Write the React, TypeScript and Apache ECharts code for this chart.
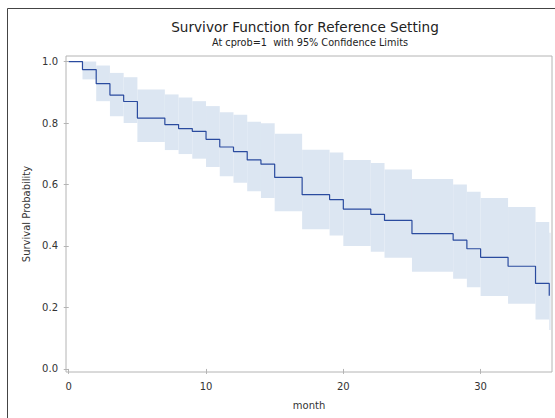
import React, { useEffect, useRef } from "react";
import * as echarts from "echarts";

// Event times (month) and Kaplan-Meier style survivor estimates with 95% limits
const times = [0, 1, 2, 3, 4, 5, 7, 8, 9, 10, 11, 12, 13, 14, 15, 17, 19, 20, 22, 23, 25, 28, 29, 30, 32, 34, 35];
const survival = [1.0, 0.974, 0.928, 0.891, 0.87, 0.816, 0.795, 0.782, 0.773, 0.747, 0.722, 0.707, 0.68, 0.666, 0.623, 0.567, 0.551, 0.52, 0.503, 0.483, 0.44, 0.419, 0.391, 0.363, 0.334, 0.278, 0.238];
const upperLimit = [1.0, 1.0, 0.987, 0.963, 0.949, 0.909, 0.893, 0.883, 0.871, 0.855, 0.835, 0.827, 0.804, 0.799, 0.765, 0.713, 0.704, 0.68, 0.67, 0.649, 0.618, 0.6, 0.576, 0.556, 0.527, 0.478, 0.443];
const lowerLimit = [1.0, 0.942, 0.871, 0.822, 0.8, 0.738, 0.712, 0.699, 0.684, 0.657, 0.627, 0.606, 0.578, 0.556, 0.513, 0.454, 0.434, 0.4, 0.381, 0.362, 0.316, 0.293, 0.266, 0.237, 0.212, 0.161, 0.127];
const endTime = 35.1;

const xTicks = [0, 10, 20, 30];
const yTicks = [0, 0.2, 0.4, 0.6, 0.8, 1.0];

const titleText = "Survivor Function for Reference Setting";
const subtitleText = "At cprob=1  with 95% Confidence Limits";
const xName = "month";
const yName = "Survival Probability";

const FONT = '"DejaVu Sans", sans-serif';

export default function App() {
  const ref = useRef<HTMLDivElement>(null);

  useEffect(() => {
    if (!ref.current) return;
    const chart = echarts.init(ref.current, null, { renderer: "svg" });

    const bandData = times.map((t, i) => [
      t,
      i + 1 < times.length ? times[i + 1] : endTime,
      upperLimit[i],
      lowerLimit[i],
    ]);
    const lineData = times.map((t, i) => [t, survival[i]]);

    const axisColor = "#b4b4b4";
    const labelColor = "#333";

    chart.setOption({
      animation: false,
      backgroundColor: "#fff",
      grid: {
        left: 66,
        top: 56,
        width: 486,
        height: 316,
        show: true,
        borderColor: axisColor,
        borderWidth: 1,
        backgroundColor: "transparent",
      },
      xAxis: {
        type: "value",
        min: -0.2,
        max: 35.2,
        name: xName,
        nameLocation: "middle",
        nameGap: 28,
        nameTextStyle: { fontFamily: FONT, fontSize: 10, color: labelColor },
        axisLine: { show: false },
        splitLine: { show: false },
        axisTick: {
          show: true,
          length: 5,
          customValues: xTicks,
          lineStyle: { color: axisColor },
        },
        axisLabel: {
          customValues: xTicks,
          margin: 9,
          fontFamily: FONT,
          fontSize: 10,
          color: labelColor,
        },
      },
      yAxis: {
        type: "value",
        min: -0.01,
        max: 1.018,
        name: yName,
        nameLocation: "middle",
        nameGap: 30,
        nameTextStyle: { fontFamily: FONT, fontSize: 10, color: labelColor },
        axisLine: { show: false },
        splitLine: { show: false },
        axisTick: {
          show: true,
          length: 5,
          customValues: yTicks,
          lineStyle: { color: axisColor },
        },
        axisLabel: {
          customValues: yTicks,
          margin: 8,
          fontFamily: FONT,
          fontSize: 10,
          color: labelColor,
          formatter: (v: number) => v.toFixed(1),
        },
      },
      graphic: [
        {
          type: "line",
          shape: { x1: 7.5, y1: 8.5, x2: 555, y2: 8.5 },
          style: { stroke: "#444", lineWidth: 1 },
        },
        {
          type: "line",
          shape: { x1: 7.5, y1: 8.5, x2: 7.5, y2: 418 },
          style: { stroke: "#444", lineWidth: 1 },
        },
        {
          type: "text",
          x: 305,
          y: 27,
          style: {
            text: titleText,
            font: `13.6px ${FONT}`,
            fill: "#222",
            textAlign: "center",
            textVerticalAlign: "middle",
          },
        },
        {
          type: "text",
          x: 310,
          y: 42.5,
          style: {
            text: subtitleText,
            font: `9.7px ${FONT}`,
            fill: "#222",
            textAlign: "center",
            textVerticalAlign: "middle",
          },
        },
      ],
      series: [
        {
          type: "custom",
          name: "95% Confidence Limits",
          data: bandData,
          encode: { x: [0, 1], y: [2, 3] },
          z: 1,
          renderItem: (params: any, api: any) => {
            const p1 = api.coord([api.value(0), api.value(2)]);
            const p2 = api.coord([api.value(1), api.value(3)]);
            return {
              type: "rect",
              shape: {
                x: p1[0],
                y: p1[1],
                width: p2[0] - p1[0],
                height: p2[1] - p1[1],
              },
              style: { fill: "#dce6f2" },
            };
          },
        },
        {
          type: "line",
          name: "Survival",
          data: lineData,
          step: "end",
          showSymbol: false,
          symbol: "none",
          z: 3,
          lineStyle: { color: "#2a4b9f", width: 1.2 },
        },
      ],
    });

    return () => chart.dispose();
  }, []);

  return (
    <div
      ref={ref}
      style={{ position: "absolute", left: 0, top: 0, width: 555, height: 418 }}
    />
  );
}
